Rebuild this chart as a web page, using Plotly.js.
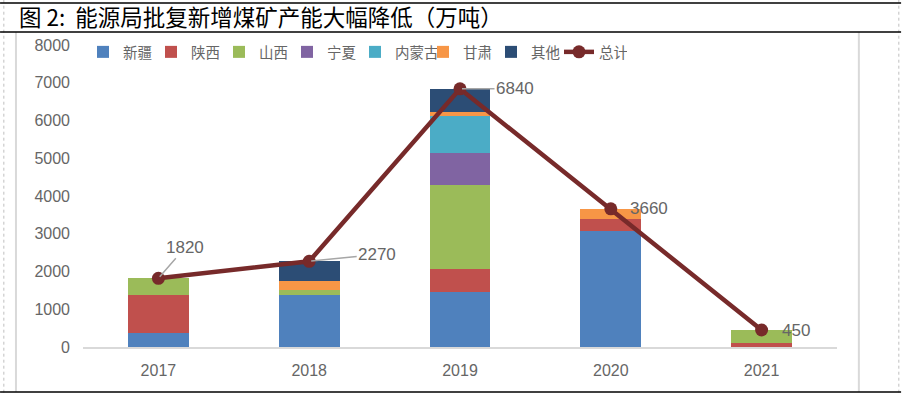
<!DOCTYPE html>
<html>
<head>
<meta charset="utf-8">
<script src="https://cdn.plot.ly/plotly-3.0.1.min.js"></script>
<style>html,body{margin:0;padding:0;background:#fff;}#chart{width:903px;height:396px;}</style>
</head>
<body>
<div id="chart"></div>
<script>
const years = ['2017', '2018', '2019', '2020', '2021'];
const xinjiang = [380, 1380, 1470, 3070, 0];
const shaanxi = [1000, 0, 600, 320, 100];
const shanxi = [440, 130, 2220, 0, 350];
const ningxia = [0, 0, 850, 0, 0];
const neimenggu = [0, 0, 990, 0, 0];
const gansu = [0, 240, 100, 270, 0];
const qita = [0, 520, 610, 0, 0];
const total = [1820, 2270, 6840, 3660, 450];
const seriesNames = ['新疆', '陕西', '山西', '宁夏', '内蒙古', '甘肃', '其他'];
const seriesColors = ['#4F81BD', '#C0504D', '#9BBB59', '#8064A2', '#4BACC6', '#F79646', '#2C4D75'];
const seriesValues = [xinjiang, shaanxi, shanxi, ningxia, neimenggu, gansu, qita];
const yTicks = [0, 1000, 2000, 3000, 4000, 5000, 6000, 7000, 8000];

const cjk = '"Noto Sans CJK SC", "Noto Sans", sans-serif';
const num = '"Liberation Sans", Arial, sans-serif';
const grey = '#666666';

const traces = seriesNames.map((n, i) => ({
  type: 'bar', name: n, x: years, y: seriesValues[i],
  marker: {color: seriesColors[i]}, hoverinfo: 'skip'
}));
traces.push({
  type: 'scatter', mode: 'lines+markers', name: '总计', x: years, y: total,
  line: {color: '#772A2A', width: 4.5}, marker: {color: '#772A2A', size: 13}
});

// label offsets (pixels) for the total data labels
const labelDx = [27, 68, 55, 38, 34];
const labelDy = [-31, -7, 0, 0, 0];
const labelArrow = [true, true, true, false, false];
const annotations = total.map((v, i) => {
  const a = {
    xref: 'x', yref: 'y', x: i, y: v, text: String(v),
    font: {family: num, size: 17, color: grey}
  };
  if (labelArrow[i]) {
    a.showarrow = true; a.axref = 'pixel'; a.ayref = 'pixel';
    a.ax = labelDx[i]; a.ay = labelDy[i];
    a.arrowhead = 0; a.arrowwidth = 1.5; a.arrowcolor = '#A6A6A6'; a.standoff = 2;
  } else {
    a.showarrow = false; a.xshift = labelDx[i]; a.yshift = -labelDy[i];
  }
  return a;
});

const shapes = [
  {type: 'line', xref: 'paper', yref: 'paper', x0: -0.105, x1: -0.105, y0: 1.15, y1: -0.16, line: {color: '#BFBFBF', width: 1, dash: 'dot'}},
  {type: 'line', xref: 'paper', yref: 'paper', x0: 1.082, x1: 1.082, y0: 1.15, y1: -0.16, line: {color: '#BFBFBF', width: 1, dash: 'dot'}},
  {type: 'line', xref: 'paper', yref: 'paper', x0: -0.0889, x1: -0.0889, y0: 1.043, y1: -0.149, line: {color: '#D9D9D9', width: 2}},
  {type: 'line', xref: 'paper', yref: 'paper', x0: 1.029, x1: 1.029, y0: 1.043, y1: -0.149, line: {color: '#D9D9D9', width: 2}},
  {type: 'line', xref: 'paper', yref: 'paper', x0: -0.11, x1: 1.085, y0: 1.139, y1: 1.139, line: {color: '#000', width: 1.5}},
  {type: 'line', xref: 'paper', yref: 'paper', x0: -0.11, x1: 1.085, y0: 1.043, y1: 1.043, line: {color: '#000', width: 1.5}},
  {type: 'line', xref: 'paper', yref: 'paper', x0: -0.11, x1: 1.085, y0: -0.149, y1: -0.149, line: {color: '#000', width: 1.5}}
];

const layout = {
  width: 903, height: 396,
  margin: {l: 83, r: 66, t: 45, b: 49},
  paper_bgcolor: '#fff', plot_bgcolor: '#fff',
  barmode: 'stack', bargap: 0.596,
  title: {text: '图 2:  能源局批复新增煤矿产能大幅降低（万吨）', x: 0.021, xref: 'container', xanchor: 'left',
          y: 0.955, yref: 'container', yanchor: 'middle', font: {family: cjk, size: 22.5, color: '#000'}},
  xaxis: {type: 'category', range: [-0.5, 4.5], showgrid: false, zeroline: false, showline: true,
          linecolor: '#D9D9D9', linewidth: 2, ticks: '', tickfont: {family: num, size: 16, color: grey}, ticklabelstandoff: 8,
          fixedrange: true},
  yaxis: {range: [0, 8000], tickvals: yTicks, ticktext: yTicks.map(String), showgrid: false, zeroline: false,
          showline: false, ticks: '', tickfont: {family: num, size: 16, color: grey}, ticklabelstandoff: 12, fixedrange: true},
  showlegend: true,
  legend: {orientation: 'h', x: 0.0, xanchor: 'left', y: 0.977, yanchor: 'middle',
           font: {family: cjk, size: 14.5, color: grey}, bgcolor: 'rgba(0,0,0,0)', traceorder: 'normal',
           itemwidth: 30, entrywidth: 23},
  annotations: annotations,
  shapes: shapes
};

Plotly.newPlot('chart', traces, layout, {displayModeBar: false, staticPlot: true});
</script>
</body>
</html>
